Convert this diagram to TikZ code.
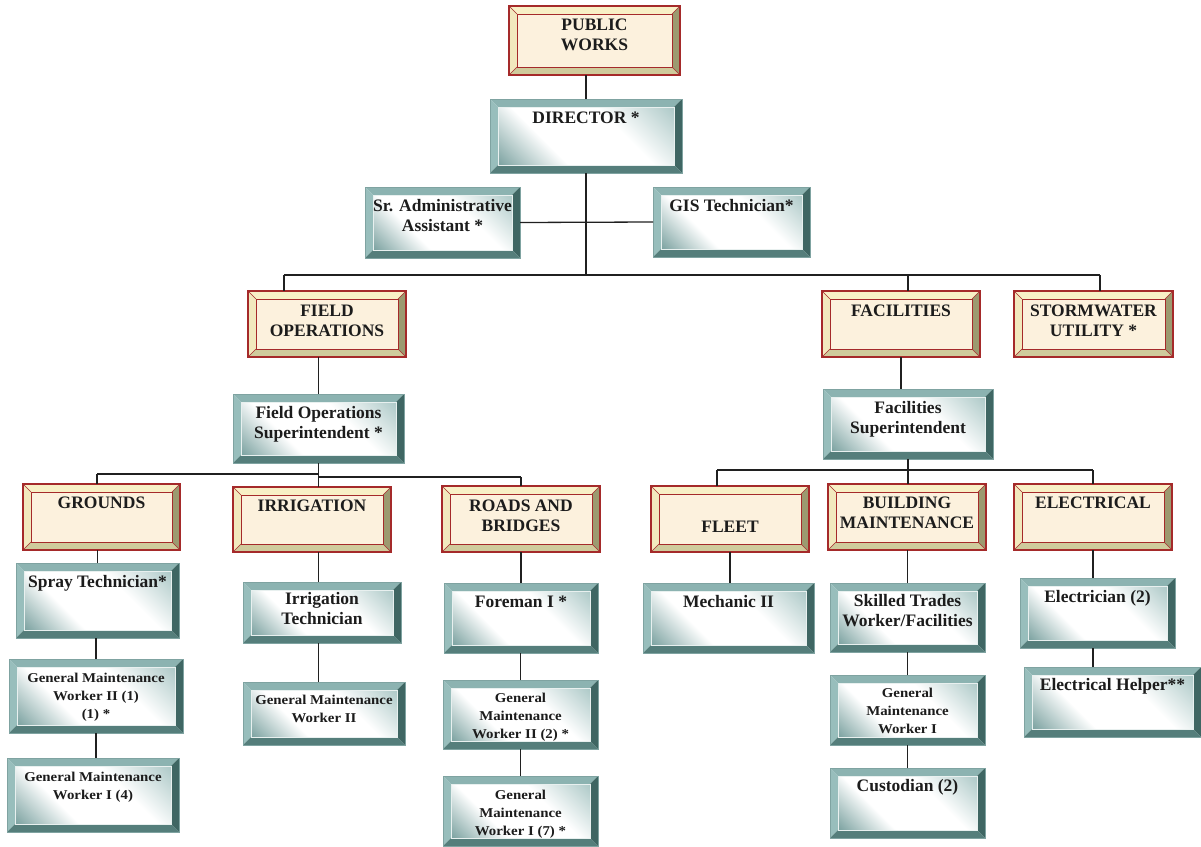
\documentclass[tikz,border=0pt]{standalone}
\usepackage{fontspec}
\setmainfont{Liberation Serif}
\newfontfamily\smallserif[FakeStretch=1.1]{Liberation Serif}
\usetikzlibrary{calc}

% palette
\definecolor{ubEdge}{HTML}{A52A2A}
\definecolor{ubTop}{HTML}{F8F0C6}
\definecolor{ubLeft}{HTML}{F2E9BE}
\definecolor{ubRight}{HTML}{9C9A70}
\definecolor{ubBottom}{HTML}{CFCB9C}
\definecolor{ubFace}{HTML}{FCF1DD}
\definecolor{sbTop}{HTML}{8CB3B1}
\definecolor{sbLeft}{HTML}{98BEBC}
\definecolor{sbRight}{HTML}{3F6663}
\definecolor{sbBottom}{HTML}{557E7B}
\definecolor{sbEdge}{HTML}{7FA3A1}
\definecolor{tfA}{HTML}{5E8D8B}
\definecolor{tfB}{HTML}{8FB5B3}
\definecolor{txtcol}{HTML}{1C1C1C}
\definecolor{wirecol}{HTML}{202020}

% diagonal face: teal corner, white middle, pale teal corner
\pgfdeclarehorizontalshading{tealface}{100bp}{color(0bp)=(tfA); color(12bp)=(tfA!92!white); color(36bp)=(white); color(62bp)=(white); color(86bp)=(tfB!75!white); color(100bp)=(tfB)}

% four bevel trapezoids around a framed face
\newcommand\bevelparts[5]{%
  \coordinate (bvA) at (path picture bounding box.south west);
  \coordinate (bvB) at (path picture bounding box.south east);
  \coordinate (bvC) at (path picture bounding box.north east);
  \coordinate (bvD) at (path picture bounding box.north west);
  \coordinate (bva) at ([shift={(#5,#5)}]bvA);
  \coordinate (bvb) at ([shift={(-#5,#5)}]bvB);
  \coordinate (bvc) at ([shift={(-#5,-#5)}]bvC);
  \coordinate (bvd) at ([shift={(#5,-#5)}]bvD);
  \fill[#1] (bvD) -- (bvC) -- (bvc) -- (bvd) -- cycle;
  \fill[#2] (bvA) -- (bvD) -- (bvd) -- (bva) -- cycle;
  \fill[#3] (bvB) -- (bvC) -- (bvc) -- (bvb) -- cycle;
  \fill[#4] (bvA) -- (bvB) -- (bvb) -- (bva) -- cycle;
}

\tikzset{
  unitbox/.style={rectangle, inner sep=0pt, outer sep=0pt, draw=ubEdge, line width=1.1pt,
    path picture={\bevelparts{ubTop}{ubLeft}{ubRight}{ubBottom}{8pt}
      \fill[ubFace] (bva) rectangle (bvc);
      \draw[ubEdge, line width=1pt] (bva) rectangle (bvc);
      \draw[ubEdge, line width=.5pt] (bvA)--(bva) (bvB)--(bvb) (bvC)--(bvc) (bvD)--(bvd);}},
  staffbox/.style={rectangle, inner sep=0pt, outer sep=0pt, draw=sbEdge, line width=.6pt,
    path picture={\bevelparts{sbTop}{sbLeft}{sbRight}{sbBottom}{8pt}
      \shade[shading=tealface, shading angle=45] (bva) rectangle (bvc);
      \draw[white!80!sbTop, line width=.6pt] (bva) rectangle (bvc);}},
  bigtxt/.style={font=\fontsize{17.5}{20}\selectfont\bfseries, align=center, inner sep=0pt,
    text=txtcol},
  smalltxt/.style={font=\smallserif\fontsize{13.5}{18}\selectfont\bfseries, align=center,
    inner sep=0pt, text=txtcol},
  wire/.style={draw=wirecol, line width=1.3pt},
}

% #1 text drop, #2 box style, #3 text style, #4 name, #5-#8 corners, #9 text
\newcommand\orgbox[9][12.5]{%
  \node[#2, minimum width={(#7-#5)*1pt}, minimum height={(#8-#6)*1pt}] (#4)
    at ({(#5+#7)/2},{(#6+#8)/2}) {};
  \node[#3, anchor=north] (#4-t) at ([yshift=-#1pt]#4.north) {#9};
}

\begin{document}
\begin{tikzpicture}[x=1pt, y=-1pt]
\useasboundingbox (0,0) rectangle (1201,846);

% ---- bus coordinates ----
\coordinate (busFO) at (284,275);
\coordinate (busFAC) at (908,275);
\coordinate (busSW) at (1100,275);
\coordinate (fbL) at (97,474);
\coordinate (fbR) at (521,477);
\coordinate (fsL) at (717,470);
\coordinate (fsR) at (1093,470);

% ---- boxes ----
\orgbox{unitbox}{bigtxt}{pw}{509}{6}{680}{75}{PUBLIC\\WORKS}
\orgbox{staffbox}{bigtxt}{dir}{490}{99}{682}{173}{DIRECTOR *}
\orgbox{staffbox}{bigtxt}{sra}{365}{187}{520}{258}{Sr. Administrative\\Assistant *}
\orgbox{staffbox}{bigtxt}{gis}{653}{187}{810}{257}{GIS Technician*}

\orgbox[13.5]{unitbox}{bigtxt}{fo}{248}{291}{406}{357}{FIELD\\OPERATIONS}
\orgbox[13.5]{unitbox}{bigtxt}{fac}{822}{291}{980}{357}{FACILITIES}
\orgbox[13.5]{unitbox}{bigtxt}{sw}{1014}{291}{1173}{357}{STORMWATER\\UTILITY *}

\orgbox{staffbox}{bigtxt}{fos}{233}{394}{404}{463}{Field Operations\\Superintendent *}
\orgbox{staffbox}{bigtxt}{fsup}{823}{389}{993}{459}{Facilities\\Superintendent}

\orgbox{unitbox}{bigtxt}{gr}{23}{484}{180}{550}{GROUNDS}
\orgbox{unitbox}{bigtxt}{irr}{233}{487}{391}{552}{IRRIGATION}
\orgbox[13.5]{unitbox}{bigtxt}{rb}{442}{486}{600}{552}{ROADS AND\\BRIDGES}
\orgbox[34.5]{unitbox}{bigtxt}{fl}{651}{486}{809}{552}{FLEET}
\orgbox{unitbox}{bigtxt}{bm}{828}{484}{986}{550}{BUILDING\\MAINTENANCE}
\orgbox{unitbox}{bigtxt}{el}{1014}{484}{1172}{550}{ELECTRICAL}

\orgbox{staffbox}{bigtxt}{spr}{16}{563}{179}{638}{Spray Technician*}
\orgbox[10.5]{staffbox}{bigtxt}{irt}{243}{582}{401}{643}{Irrigation\\Technician}
\orgbox{staffbox}{bigtxt}{frm}{444}{583}{598}{653}{Foreman I *}
\orgbox{staffbox}{bigtxt}{mec}{643}{583}{814}{653}{Mechanic II}
\orgbox[11.5]{staffbox}{bigtxt}{skt}{830}{583}{985}{652}{Skilled Trades\\Worker/Facilities}
\orgbox{staffbox}{bigtxt}{elc}{1020}{578}{1175}{648}{Electrician (2)}

\orgbox[13.5]{staffbox}{smalltxt}{g2a}{9}{659}{183}{733}{General Maintenance\\Worker II (1)\\(1) *}
\orgbox[12.5]{staffbox}{smalltxt}{g2b}{243}{682}{405}{745}{General Maintenance\\Worker II}
\orgbox[12.5]{staffbox}{smalltxt}{g2c}{443}{680}{598}{749}{General\\Maintenance\\Worker II (2) *}
\orgbox[12.5]{staffbox}{smalltxt}{g1c}{830}{675}{985}{745}{General\\Maintenance\\Worker I}
\orgbox[11.5]{staffbox}{bigtxt}{hlp}{1024}{667}{1201}{737}{Electrical Helper**}

\orgbox[13.5]{staffbox}{smalltxt}{g1a}{7}{758}{179}{832}{General Maintenance\\Worker I (4)}
\orgbox[13.5]{staffbox}{smalltxt}{g1b}{443}{776}{598}{846}{General\\Maintenance\\Worker I (7) *}
\orgbox[11.5]{staffbox}{bigtxt}{cus}{830}{768}{985}{838}{Custodian (2)}

% ---- connectors ----
\draw[wire] (dir.north) -- (dir.north |- pw.south);
\draw[wire] (dir.south) -- (dir.south |- busFO);
\draw[wire] (sra.east) -- (gis.west);
\draw[wire] (busFO) -- (busSW);
\draw[wire] (busFO) -- (busFO |- fo.north);
\draw[wire] (busFAC) -- (busFAC |- fac.north);
\draw[wire] (busSW) -- (busSW |- sw.north);

\draw[wire] (fos.north) -- (fos.north |- fo.south);
\draw[wire] (fos.south) -- (fos.south |- fbR);
\draw[wire] (fbL) -- (fbL -| fos.south);
\draw[wire] (fos.south |- fbR) -- (fbR);
\draw[wire] (fbL) -- (fbL |- gr.north);
\draw[wire] (fos.south |- fbR) -- (fos.south |- irr.north);
\draw[wire] (fbR) -- (fbR |- rb.north);

\draw[wire] (spr.north) -- (spr.north |- gr.south);
\draw[wire] (g2a.north) -- (g2a.north |- spr.south);
\draw[wire] (g2a.south) -- (g2a.south |- g1a.north);
\draw[wire] (fos.south |- irr.south) -- (fos.south |- irt.north);
\draw[wire] (fos.south |- irt.south) -- (fos.south |- g2b.north);
\draw[wire] (frm.north) -- (frm.north |- rb.south);
\draw[wire] (g2c.north) -- (g2c.north |- frm.south);
\draw[wire] (g1b.north) -- (g1b.north |- g2c.south);

\draw[wire] (fac.south) -- (fac.south |- fsup.north);
\draw[wire] (fsup.south) -- (fsup.south |- fsL);
\draw[wire] (fsL) -- (fsR);
\draw[wire] (fsL) -- (fsL |- fl.north);
\draw[wire] (fsup.south |- fsL) -- (fsup.south |- bm.north);
\draw[wire] (fsR) -- (fsR |- el.north);
\draw[wire] (fl.south) -- (fl.south |- mec.north);
\draw[wire] (skt.north) -- (skt.north |- bm.south);
\draw[wire] (g1c.north) -- (g1c.north |- skt.south);
\draw[wire] (cus.north) -- (cus.north |- g1c.south);
\draw[wire] (el.south) -- (el.south |- elc.north);
\draw[wire] (el.south |- elc.south) -- (el.south |- hlp.north);
\end{tikzpicture}
\end{document}
